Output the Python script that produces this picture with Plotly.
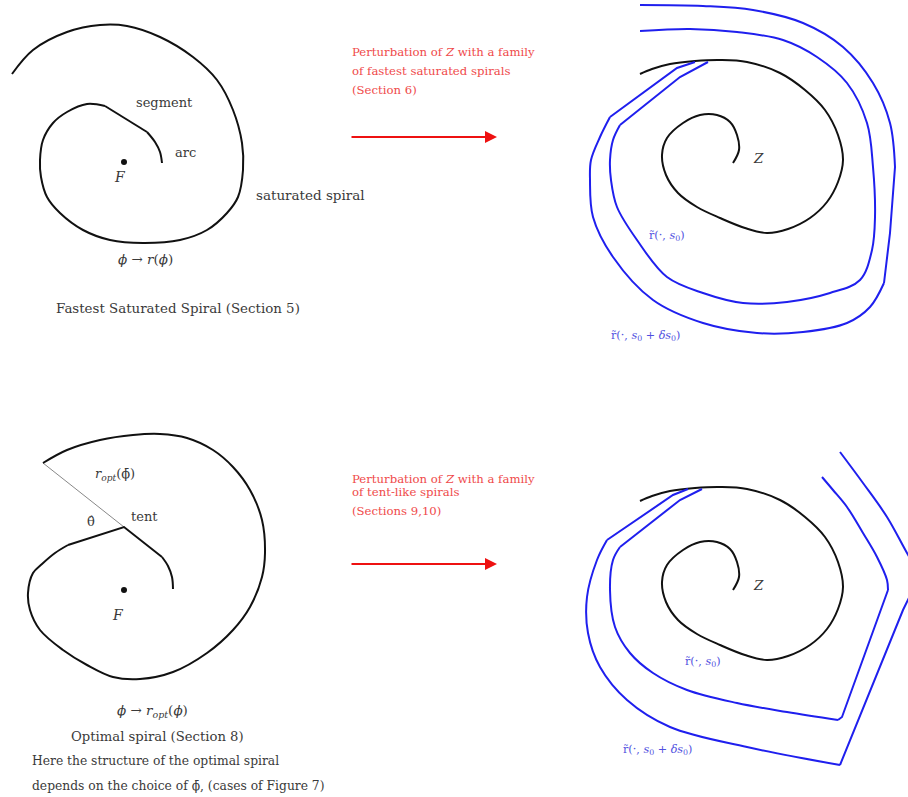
import plotly.graph_objects as go

# ---- Fastest saturated spiral around F (top-left panel) ----
sat_outer_x = [12, 33, 67, 100, 127, 160, 193, 217, 233, 242, 243, 238, 227, 207, 180, 143, 110, 83, 60, 47, 41, 40, 43, 53, 67, 87, 105]
sat_outer_y = [74, 50, 32, 25, 26, 37, 57, 80, 110, 143, 170, 197, 213, 230, 240, 243, 240, 230, 213, 197, 177, 160, 140, 123, 112, 104, 106]
sat_segment_x = [105, 147]
sat_segment_y = [106, 132]
sat_arc_x = [147, 155, 160, 162]
sat_arc_y = [132, 142, 152, 163]
focus_top = (124, 162)

# ---- Optimal spiral with a tent (bottom-left panel) ----
opt_outer_x = [43, 67, 100, 133, 160, 187, 213, 233, 250, 262, 265, 262, 250, 233, 207, 173, 140, 113, 87, 63, 40, 30, 28, 33, 42, 55, 68]
opt_outer_y = [463, 450, 440, 435, 434, 438, 450, 467, 490, 520, 553, 577, 607, 630, 653, 672, 679, 677, 665, 650, 630, 610, 593, 573, 564, 553, 545]
opt_tent_x = [68, 124, 162]
opt_tent_y = [545, 527, 557]
opt_arc_x = [162, 168, 172, 173]
opt_arc_y = [557, 566, 577, 589]
opt_ray_x = [43, 124]
opt_ray_y = [463, 527]
focus_bottom = (124, 590)

# ---- Spiral Z (drawn in both right panels) ----
z_x = [733, 739, 737, 730, 717, 700, 683, 667, 662, 666, 678, 697, 720, 745, 767, 788, 810, 827, 838, 843, 838, 825, 805, 780, 747, 720, 695, 670, 652, 640]
z_y = [163, 150, 135, 122, 115, 115, 123, 138, 155, 175, 193, 207, 218, 228, 233, 229, 218, 202, 182, 160, 135, 110, 90, 73, 62, 60, 61, 64, 69, 74]
z_shift_bottom = 427

# ---- Family of fastest saturated spirals (top-right) ----
fs1_lin_x = [708, 680, 620]
fs1_lin_y = [62, 77, 125]
fs1_x = [620, 613, 610, 611, 617, 637, 667, 703, 743, 787, 830, 860, 872, 875, 873, 867, 847, 817, 783, 737, 690, 640]
fs1_y = [125, 140, 160, 180, 207, 240, 277, 293, 303, 302, 293, 280, 250, 217, 167, 123, 83, 57, 40, 32, 29, 31]
fs2_lin_x = [695, 677, 610]
fs2_lin_y = [62, 68, 117]
fs2_x = [610, 600, 591, 590, 593, 613, 653, 703, 757, 803, 847, 870, 884]
fs2_y = [117, 137, 160, 180, 217, 257, 300, 323, 333, 332, 323, 307, 283]
fs2_side_x = [884, 890, 895]
fs2_side_y = [283, 233, 167]
fs2_top_x = [895, 890, 873, 843, 803, 753, 703, 640]
fs2_top_y = [167, 123, 83, 47, 23, 10, 6, 5]

# ---- Family of tent-like spirals (bottom-right) ----
tl1_lin_x = [702, 680, 620]
tl1_lin_y = [489, 500, 547]
tl1_x = [620, 613, 610, 615, 630, 653, 687, 737, 787, 838]
tl1_y = [547, 560, 590, 627, 653, 673, 690, 703, 712, 720]
tl1_tip_x = [838, 842, 888]
tl1_tip_y = [720, 717, 590]
tl1_top_x = [888, 887, 877, 863, 847, 833, 822]
tl1_top_y = [590, 580, 557, 533, 507, 490, 477]
tl2_lin_x = [688, 673, 607]
tl2_lin_y = [489, 495, 540]
tl2_x = [607, 597, 587, 588, 600, 627, 670, 747, 840]
tl2_y = [540, 560, 597, 633, 667, 700, 727, 747, 765]
tl2_tip_x = [840, 903, 920]
tl2_tip_y = [765, 610, 575]
tl2_top_x = [920, 907, 887, 863, 840]
tl2_top_y = [575, 553, 517, 483, 452]

BLACK = "#111111"
BLUE = "#1f1fee"
RED = "#ee1111"
TXT = "#3a3a3a"
RED_TXT = "#ef4a4a"
BLUE_TXT = "#5050e0"
SERIF = "DejaVu Serif"

fig = go.Figure()


def curve(xs, ys, color, width=2.0, smooth=True):
    fig.add_trace(go.Scatter(
        x=xs, y=ys, mode="lines",
        line=dict(color=color, width=width,
                  shape="spline" if smooth else "linear",
                  smoothing=1.0 if smooth else None),
        hoverinfo="skip", showlegend=False))


# top-left spiral
curve(sat_outer_x, sat_outer_y, BLACK)
curve(sat_segment_x, sat_segment_y, BLACK, smooth=False)
curve(sat_arc_x, sat_arc_y, BLACK)

# bottom-left spiral
curve(opt_ray_x, opt_ray_y, "#888888", width=1.0, smooth=False)
curve(opt_outer_x, opt_outer_y, BLACK)
curve(opt_tent_x, opt_tent_y, BLACK, smooth=False)
curve(opt_arc_x, opt_arc_y, BLACK)

# spiral Z in both right panels
curve(z_x, z_y, BLACK)
curve(z_x, [v + z_shift_bottom for v in z_y], BLACK)

# fastest saturated family
curve(fs1_lin_x, fs1_lin_y, BLUE, smooth=False)
curve(fs1_x, fs1_y, BLUE)
curve(fs2_lin_x, fs2_lin_y, BLUE, smooth=False)
curve(fs2_x, fs2_y, BLUE)
curve(fs2_side_x, fs2_side_y, BLUE, smooth=False)
curve(fs2_top_x, fs2_top_y, BLUE)

# tent-like family
curve(tl1_lin_x, tl1_lin_y, BLUE, smooth=False)
curve(tl1_x, tl1_y, BLUE)
curve(tl1_tip_x, tl1_tip_y, BLUE, smooth=False)
curve(tl1_top_x, tl1_top_y, BLUE)
curve(tl2_lin_x, tl2_lin_y, BLUE, smooth=False)
curve(tl2_x, tl2_y, BLUE)
curve(tl2_tip_x, tl2_tip_y, BLUE, smooth=False)
curve(tl2_top_x, tl2_top_y, BLUE)

# focus points
fig.add_trace(go.Scatter(
    x=[focus_top[0], focus_bottom[0]], y=[focus_top[1], focus_bottom[1]],
    mode="markers", marker=dict(color=BLACK, size=6),
    hoverinfo="skip", showlegend=False))

annotations = []


def label(x, y, text, size=13.5, color=TXT, anchor="center"):
    annotations.append(dict(
        x=x, y=y, xref="x", yref="y", text=text, showarrow=False,
        xanchor=anchor, yanchor="middle",
        font=dict(family=SERIF, size=size, color=color)))


# top-left labels
label(164, 102, "segment", size=13)
label(185, 152, "arc", size=13)
label(120, 177, "<i>F</i>", size=14)
label(310, 195, "saturated spiral", size=13.5)
label(145, 259, "<i>ϕ</i> → <i>r</i>(<i>ϕ</i>)", size=13.5)
label(178, 308, "Fastest Saturated Spiral (Section 5)", size=13.4)

# bottom-left labels
label(115, 474, "<i>r<sub>opt</sub></i>(ϕ̄)", size=13)
label(91, 521, "θ̂", size=13)
label(144, 516, "tent", size=13)
label(118, 615, "<i>F</i>", size=14)
label(152, 711, "<i>ϕ</i> → <i>r<sub>opt</sub></i>(<i>ϕ</i>)", size=13.5)
label(157, 736, "Optimal spiral (Section 8)", size=13.2)
label(30, 761, "Here the structure of the optimal spiral", size=12.3, anchor="left")
label(30, 786, "depends on the choice of ϕ̄, (cases of Figure 7)", size=12.3, anchor="left")

# red captions
label(350, 52, "Perturbation of <i>Z</i> with a family", size=11.7, color=RED_TXT, anchor="left")
label(350, 71, "of fastest saturated spirals", size=11.7, color=RED_TXT, anchor="left")
label(350, 90, "(Section 6)", size=11.7, color=RED_TXT, anchor="left")
label(350, 479, "Perturbation of <i>Z</i> with a family", size=11.7, color=RED_TXT, anchor="left")
label(350, 492, "of tent-like spirals", size=11.7, color=RED_TXT, anchor="left")
label(350, 511, "(Sections 9,10)", size=11.7, color=RED_TXT, anchor="left")

# right panel labels
label(758, 158, "<i>Z</i>", size=13.5)
label(758, 585, "<i>Z</i>", size=13.5)
label(667, 236, "r̃(·, <i>s</i><sub>0</sub>)", size=11.2, color=BLUE_TXT)
label(645, 336, "r̃(·, <i>s</i><sub>0</sub> + <i>δs</i><sub>0</sub>)", size=11.2, color=BLUE_TXT)
label(703, 662, "r̃(·, <i>s</i><sub>0</sub>)", size=11.2, color=BLUE_TXT)
label(657, 750, "r̃(·, <i>s</i><sub>0</sub> + <i>δs</i><sub>0</sub>)", size=11.2, color=BLUE_TXT)

# red arrows
for y in (137, 564):
    annotations.append(dict(
        x=497, y=y, ax=350, ay=y, xref="x", yref="y", axref="x", ayref="y",
        text="", showarrow=True, arrowhead=2, arrowsize=1.2, arrowwidth=2,
        arrowcolor=RED))

fig.update_layout(
    width=908, height=797,
    margin=dict(l=0, r=0, t=0, b=0),
    paper_bgcolor="white", plot_bgcolor="white",
    xaxis=dict(range=[0, 908], visible=False, fixedrange=True),
    yaxis=dict(range=[797, 0], visible=False, fixedrange=True),
    annotations=annotations,
)

fig.write_html("out.html")
